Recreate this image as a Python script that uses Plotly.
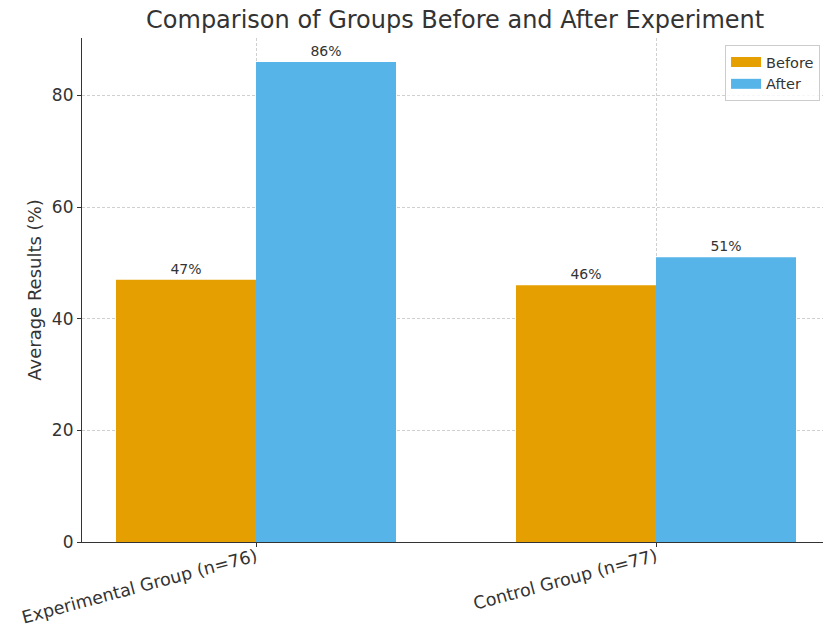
import plotly.graph_objects as go

groups = ["Experimental Group (n=76)", "Control Group (n=77)"]
before = [47, 46]
after = [86, 51]
series_names = ["Before", "After"]
colors = ["#E69F00", "#56B4E9"]

x_pos = list(range(len(groups)))
bar_w = 0.35
font_fam = "DejaVu Sans"
txt = "#333333"

fig = go.Figure()
for vals, name, col, off in [(before, series_names[0], colors[0], -bar_w),
                             (after, series_names[1], colors[1], 0)]:
    fig.add_trace(go.Bar(
        x=x_pos, y=vals, name=name, width=bar_w, offset=off,
        marker=dict(color=col, line=dict(width=0)),
        text=[f"{v}%" for v in vals], textposition="outside",
        textfont=dict(size=14, color=txt, family=font_fam), cliponaxis=False,
        showlegend=False,
    ))
# legend entries with wide rectangular swatches
for name, col in zip(series_names, colors):
    fig.add_trace(go.Scatter(x=[None], y=[None], mode="lines", name=name,
                             line=dict(color=col, width=11)))

fig.update_layout(
    width=823, height=627,
    margin=dict(l=82, r=0, t=38, b=85),
    paper_bgcolor="white", plot_bgcolor="white",
    font=dict(family=font_fam, color=txt, size=16),
    title=dict(text="Comparison of Groups Before and After Experiment",
               x=0.553, xanchor="center", y=0.968, yanchor="middle",
               font=dict(size=24, color=txt, family=font_fam)),
    barmode="overlay",
    showlegend=True,
    legend=dict(x=0.996, xanchor="right", y=0.986, yanchor="top",
                bgcolor="rgba(255,255,255,0.8)", bordercolor="#cccccc", borderwidth=1,
                font=dict(size=14.5, color=txt, family=font_fam),
                tracegroupgap=0, itemsizing="trace"),
    xaxis=dict(range=[-0.435, 1.4175], tickmode="array", tickvals=x_pos, ticktext=groups,
               tickangle=-15, tickfont=dict(size=17.5, color=txt), automargin=False,
               ticklabelstandoff=-7,
               showgrid=True, gridcolor="#d0d0d0", griddash="3px,2px", gridwidth=0.8,
               showline=True, linecolor="#333333", linewidth=1.2,
               ticks="outside", ticklen=4, tickcolor="#333333", zeroline=False, mirror=False),
    yaxis=dict(range=[0, 90.3], tickmode="array", tickvals=[0, 20, 40, 60, 80],
               tickfont=dict(size=17, color=txt), automargin=False,
               title=dict(text="Average Results (%)", font=dict(size=18, color=txt), standoff=5),
               showgrid=True, gridcolor="#d0d0d0", griddash="3px,2px", gridwidth=0.8,
               showline=True, linecolor="#333333", linewidth=1.2,
               ticks="outside", ticklen=4, tickcolor="#333333", zeroline=False),
)

fig.write_html("out.html")
